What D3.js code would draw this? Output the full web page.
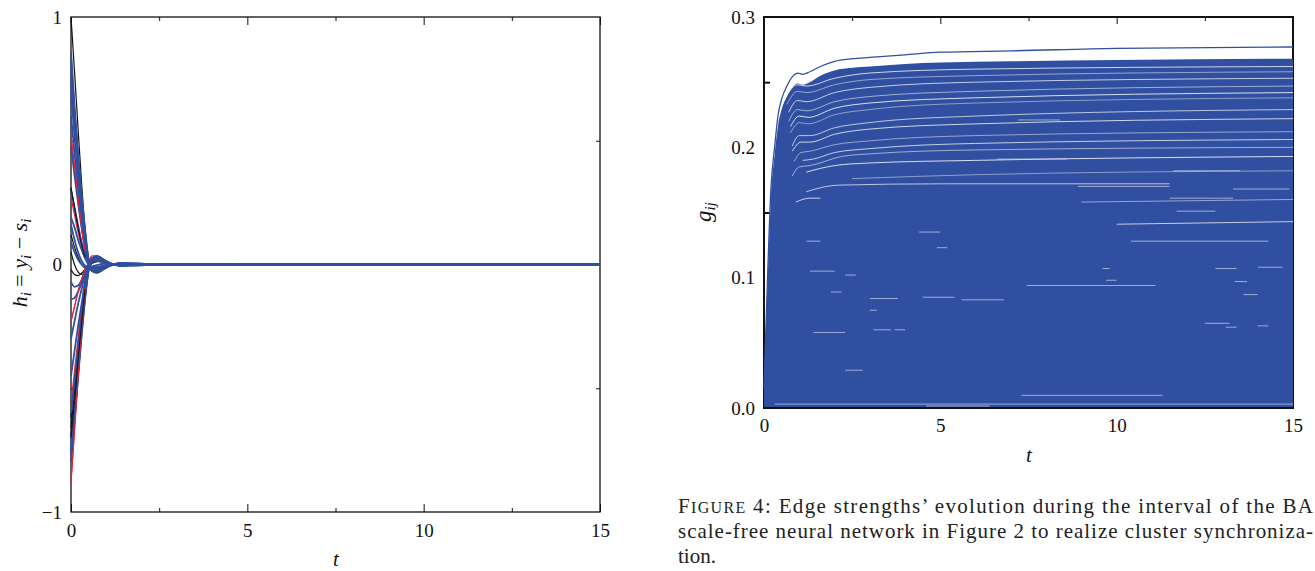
<!DOCTYPE html>
<html>
<head>
<meta charset="utf-8">
<script src="https://cdn.jsdelivr.net/npm/d3@7"></script>
<style>
  body { margin: 0; background: #fff; }
  svg { display: block; }
</style>
</head>
<body>
<script>
// ---------- left panel: h_i = y_i - s_i ----------
const tLeft = [0, 0.1, 0.2, 0.3, 0.4, 0.5, 0.6, 0.75, 0.9, 1.1, 1.4, 1.8, 2.5, 3.5, 5, 15];

const blackLeft = [
  [1.0, 0.78, 0.55, 0.33, 0.14, 0.01, -0.028, -0.034, -0.02, -0.005, 0.006, 0.004, 0.001, 0, 0, 0],
  [0.31, 0.23, 0.15, 0.08, 0.03, 0.0, -0.012, -0.015, -0.01, -0.003, 0.002, 0.002, 0, 0, 0, 0],
  [0.12, 0.07, 0.03, 0.0, -0.015, -0.02, -0.018, -0.012, -0.006, 0, 0.002, 0.001, 0, 0, 0, 0],
  [0.05, 0.0, -0.03, -0.04, -0.03, -0.012, 0.005, 0.012, 0.01, 0.004, 0, 0, 0, 0, 0, 0],
  [-0.62, -0.47, -0.32, -0.19, -0.07, 0.0, 0.025, 0.028, 0.018, 0.005, -0.004, -0.003, -0.001, 0, 0, 0],
  [-0.7, -0.55, -0.39, -0.24, -0.1, -0.01, 0.02, 0.03, 0.02, 0.006, -0.004, -0.003, -0.001, 0, 0, 0],
  [-0.66, -0.52, -0.37, -0.23, -0.09, -0.005, 0.022, 0.027, 0.017, 0.005, -0.003, -0.002, 0, 0, 0, 0],
  [-0.02, -0.04, -0.045, -0.035, -0.02, -0.005, 0.01, 0.015, 0.01, 0.003, 0, 0, 0, 0, 0, 0]
];

const redLeft = [
  [0.52, 0.4, 0.27, 0.15, 0.05, -0.005, -0.025, -0.025, -0.015, -0.004, 0.003, 0.002, 0.001, 0, 0, 0],
  [0.27, 0.2, 0.13, 0.07, 0.025, 0.0, -0.01, -0.012, -0.008, -0.002, 0.002, 0.001, 0, 0, 0, 0],
  [-0.23, -0.17, -0.11, -0.06, -0.02, 0.005, 0.015, 0.014, 0.008, 0.002, -0.002, -0.001, 0, 0, 0, 0],
  [-0.56, -0.43, -0.3, -0.17, -0.06, 0.005, 0.025, 0.025, 0.015, 0.004, -0.003, -0.002, 0, 0, 0, 0],
  [-0.88, -0.67, -0.46, -0.26, -0.09, 0.005, 0.035, 0.035, 0.02, 0.005, -0.005, -0.003, -0.001, 0, 0, 0]
];

const blueLeft = [
  [0.86, 0.64, 0.45, 0.28, 0.14, 0.02, -0.026, -0.033, -0.022, -0.006, 0.005, 0.004, 0.0013, 0.0004, 0.002, 0.002],
  [0.83, 0.62, 0.44, 0.28, 0.13, 0.015, -0.025, -0.031, -0.02, -0.005, 0.005, 0.003, 0.001, 0, 0, 0],
  [0.79, 0.6, 0.42, 0.26, 0.12, 0.01, -0.022, -0.03, -0.019, -0.005, 0.004, 0.003, 0.001, 0, 0, 0],
  [0.74, 0.56, 0.39, 0.24, 0.11, 0.01, -0.02, -0.027, -0.017, -0.004, 0.004, 0.003, 0.001, 0, 0, 0],
  [0.69, 0.52, 0.36, 0.22, 0.1, 0.008, -0.02, -0.025, -0.016, -0.004, 0.004, 0.002, 0.001, 0, 0, 0],
  [0.6, 0.45, 0.31, 0.19, 0.085, 0.005, -0.018, -0.022, -0.014, -0.004, 0.003, 0.002, 0.0005, 0, 0, 0],
  [0.48, 0.36, 0.25, 0.15, 0.065, 0.005, -0.015, -0.02, -0.012, -0.003, 0.003, 0.002, 0.0005, 0, 0, 0],
  [0.3, 0.23, 0.16, 0.09, 0.04, 0.002, -0.012, -0.015, -0.01, -0.003, 0.002, 0.001, 0, 0, 0, 0],
  [0.19, 0.15, 0.1, 0.06, 0.025, 0.0, -0.01, -0.012, -0.008, -0.002, 0.002, 0.001, 0, 0, 0, 0],
  [0.16, 0.1, 0.05, 0.015, -0.005, -0.012, -0.014, -0.01, -0.005, 0.0, 0.002, 0.001, 0, 0, 0, 0],
  [0.09, 0.05, 0.02, 0.0, -0.01, -0.012, -0.008, -0.002, 0.003, 0.003, 0.001, 0, 0, 0, 0, 0],
  [-0.07, -0.09, -0.085, -0.065, -0.038, -0.01, 0.012, 0.02, 0.014, 0.004, -0.002, -0.001, 0, 0, 0, 0],
  [-0.14, -0.135, -0.11, -0.075, -0.04, -0.008, 0.015, 0.022, 0.015, 0.004, -0.003, -0.002, 0, 0, 0, 0],
  [-0.3, -0.23, -0.16, -0.1, -0.04, -0.002, 0.015, 0.018, 0.011, 0.003, -0.002, -0.001, 0, 0, 0, 0],
  [-0.45, -0.35, -0.25, -0.16, -0.07, -0.005, 0.02, 0.025, 0.016, 0.004, -0.003, -0.002, -0.001, 0, 0, 0],
  [-0.6, -0.47, -0.34, -0.21, -0.09, -0.01, 0.02, 0.026, 0.017, 0.005, -0.004, -0.002, -0.001, 0, 0, 0],
  [-0.72, -0.57, -0.41, -0.26, -0.12, -0.015, 0.022, 0.03, 0.02, 0.006, -0.004, -0.003, -0.001, 0, 0, 0],
  [-0.75, -0.59, -0.43, -0.27, -0.13, -0.02, 0.025, 0.032, 0.021, 0.006, -0.005, -0.003, -0.001, 0, 0, 0],
  [-0.77, -0.61, -0.44, -0.28, -0.13, -0.02, 0.026, 0.033, 0.022, 0.006, -0.005, -0.003, -0.001, 0, 0, 0],
  [-0.8, -0.63, -0.46, -0.29, -0.14, -0.025, 0.025, 0.034, 0.022, 0.006, -0.005, -0.003, -0.001, 0, -0.002, -0.002]
];

const xTickLabels = [0, 5, 10, 15];
const xMinorTicks = [2.5, 7.5, 12.5];
const hTickLabels = [-1, 0, 1];
const hMinorTicks = [-0.5, 0.5];

// ---------- right panel: g_ij ----------
const tRight = [0, 0.1, 0.2, 0.3, 0.4, 0.5, 0.65, 0.8, 0.95, 1.1, 1.3, 1.6, 2, 2.5, 3, 4, 5, 7, 10, 15];
const topLine = [0.015, 0.1, 0.17, 0.2, 0.225, 0.237, 0.247, 0.254, 0.257, 0.256, 0.258, 0.262, 0.266, 0.268, 0.269, 0.271, 0.273, 0.274, 0.276, 0.277];
const bodyTop = [0.02, 0.095, 0.163, 0.194, 0.217, 0.229, 0.239, 0.246, 0.249, 0.248, 0.25, 0.255, 0.259, 0.261, 0.262, 0.264, 0.265, 0.266, 0.267, 0.268];

// white gaps between neighbouring edge curves, [t, g]
const gapCurves = [
  [[0.6, 0.238], [0.95, 0.248], [1.2, 0.247], [2, 0.253], [3, 0.257], [6, 0.26], [15, 0.262]],
  [[0.65, 0.233], [0.95, 0.243], [1.2, 0.242], [2, 0.248], [3, 0.252], [6, 0.255], [15, 0.258]],
  [[0.7, 0.227], [0.95, 0.236], [1.2, 0.235], [2, 0.242], [3, 0.246], [6, 0.25], [15, 0.253]],
  [[0.7, 0.22], [0.95, 0.229], [1.2, 0.228], [2, 0.235], [3, 0.239], [6, 0.243], [15, 0.247]],
  [[0.75, 0.216], [1.0, 0.224], [1.25, 0.223], [2, 0.23], [3, 0.234], [6, 0.238], [15, 0.242]],
  [[0.75, 0.211], [1.0, 0.219], [1.25, 0.218], [2, 0.225], [3, 0.229], [6, 0.234], [15, 0.238]],
  [[0.8, 0.201], [1.0, 0.209], [1.3, 0.209], [2, 0.215], [3, 0.219], [6, 0.224], [15, 0.229]],
  [[0.8, 0.197], [1.05, 0.204], [1.3, 0.204], [2, 0.21], [3, 0.214], [6, 0.218], [15, 0.222]],
  [[0.85, 0.189], [1.05, 0.196], [1.3, 0.197], [2, 0.202], [3, 0.205], [6, 0.209], [15, 0.212]],
  [[1.1, 0.19], [1.4, 0.191], [2, 0.196], [3, 0.199], [6, 0.203], [15, 0.206]],
  [[0.8, 0.178], [1.0, 0.185], [1.3, 0.186], [2.2, 0.193], [3, 0.195], [6, 0.198], [15, 0.2]],
  [[1.2, 0.181], [2, 0.186], [3, 0.188], [6, 0.19], [15, 0.193]],
  [[2.5, 0.176], [6, 0.179], [15, 0.182]],
  [[1.2, 0.166], [2.1, 0.171], [5, 0.172], [11.5, 0.172]],
  [[0.9, 0.158], [1.3, 0.161], [1.6, 0.161]],
  [[9, 0.158], [15, 0.16]],
  [[10, 0.141], [15, 0.143]]
];

// short light streaks inside the blue mass: [t start, t end, g]
const faintDashes = [
  [1.4, 2.3, 0.058], [3.1, 3.6, 0.06], [3.7, 4.0, 0.06], [3.0, 3.8, 0.084], [4.5, 5.4, 0.085],
  [5.6, 6.8, 0.083], [1.9, 2.2, 0.089], [3.0, 3.2, 0.075], [2.3, 2.8, 0.029], [4.4, 5.0, 0.135],
  [4.9, 5.2, 0.123], [7.45, 11.1, 0.094], [13.1, 13.4, 0.062], [14.0, 14.3, 0.063], [13.35, 13.7, 0.097],
  [13.6, 14.0, 0.087], [12.8, 13.4, 0.107], [14.0, 14.7, 0.108], [9.6, 9.8, 0.107], [9.7, 10.0, 0.098],
  [7.3, 11.3, 0.0097], [10.4, 14.3, 0.128], [11.5, 13.3, 0.161], [11.7, 12.8, 0.151], [13.3, 14.9, 0.168],
  [8.9, 11.5, 0.17], [11.6, 13.5, 0.182], [6.6, 8.6, 0.191], [7.2, 8.4, 0.221], [1.2, 1.6, 0.128],
  [4.6, 6.4, 0.0015], [0.3, 15, 0.003], [1.3, 2.0, 0.105], [2.3, 2.6, 0.102], [12.5, 13.2, 0.065]
];

const gTickLabels = [0, 0.1, 0.2, 0.3];
const gMinorTicks = [0.05, 0.15, 0.25];

const captionLines = [
  ["Figure 4:", " Edge strengths’ evolution during the interval of the BA"],
  ["", "scale-free neural network in Figure 2 to realize cluster synchroniza-"],
  ["", "tion."]
];

// ---------- drawing ----------
const serif = "Liberation Serif";
const blue = "#314fa0";

const svg = d3.select("body").append("svg")
  .attr("width", 1315)
  .attr("height", 571)
  .style("background-color", "#fff");

function styleAxis(g, size) {
  g.select(".domain").remove();
  g.attr("font-family", serif).attr("font-size", size);
  g.selectAll("text").attr("fill", "#111").attr("font-family", serif);
  g.selectAll("line").attr("stroke", "#111");
}

// left panel scales
const xL = d3.scaleLinear().domain([0, 15]).range([71, 600]);
const yL = d3.scaleLinear().domain([-1, 1]).range([512, 17]);

svg.append("g").attr("transform", "translate(0,512)")
  .call(d3.axisBottom(xL).tickValues(xTickLabels).tickSize(-8).tickPadding(12).tickFormat(d3.format("d")))
  .call(styleAxis, 19);
svg.append("g").attr("transform", "translate(0,512)")
  .call(d3.axisBottom(xL).tickValues(xMinorTicks).tickSize(-4).tickFormat(""))
  .call(styleAxis, 19);
svg.append("g").attr("transform", "translate(0,17)")
  .call(d3.axisTop(xL).tickValues(xTickLabels).tickSize(-8).tickFormat(""))
  .call(styleAxis, 19);
svg.append("g").attr("transform", "translate(0,17)")
  .call(d3.axisTop(xL).tickValues(xMinorTicks).tickSize(-4).tickFormat(""))
  .call(styleAxis, 19);
svg.append("g").attr("transform", "translate(71,0)")
  .call(d3.axisLeft(yL).tickValues(hTickLabels).tickSize(0).tickPadding(9).tickFormat(d3.format("d")))
  .call(styleAxis, 19);
svg.append("g").attr("transform", "translate(71,0)")
  .call(d3.axisLeft(yL).tickValues(hMinorTicks).tickSize(-4).tickFormat(""))
  .call(styleAxis, 19);
svg.append("g").attr("transform", "translate(600,0)")
  .call(d3.axisRight(yL).tickValues(hMinorTicks).tickSize(-4).tickFormat(""))
  .call(styleAxis, 19);

svg.append("rect")
  .attr("x", xL(0)).attr("y", yL(1))
  .attr("width", xL(15) - xL(0)).attr("height", yL(-1) - yL(1))
  .attr("fill", "none").attr("stroke", "#111").attr("stroke-width", 1.3);

const lineL = d3.line()
  .x((d, i) => xL(tLeft[i]))
  .y(d => yL(d))
  .curve(d3.curveMonotoneX);

const leftSets = [
  { data: blackLeft, color: "#111", w: 1.2 },
  { data: redLeft, color: "#e8202a", w: 1.2 },
  { data: blueLeft, color: blue, w: 1.8 }
];
leftSets.forEach(s => {
  svg.append("g").selectAll("path")
    .data(s.data)
    .join("path")
    .attr("d", lineL)
    .attr("fill", "none")
    .attr("stroke", s.color)
    .attr("stroke-width", s.w);
});
// some red and black strands show through the blue wedge (initial part only)
svg.append("g").selectAll("path")
  .data([redLeft[0], redLeft[2], redLeft[4], blackLeft[1], blackLeft[5]].map(a => a.slice(0, 5)))
  .join("path")
  .attr("d", lineL)
  .attr("fill", "none")
  .attr("stroke", (d, i) => i < 3 ? "#e8202a" : "#111")
  .attr("stroke-width", 1);

// axis titles, left
svg.append("text")
  .attr("transform", "translate(27,263) rotate(-90)")
  .attr("text-anchor", "middle")
  .attr("font-family", serif)
  .attr("font-size", 22)
  .attr("fill", "#111")
  .html("<tspan font-style='italic'>h</tspan><tspan font-style='italic' font-size='15' dy='4'>i</tspan>" +
        "<tspan dy='-4'> = </tspan><tspan font-style='italic'>y</tspan><tspan font-style='italic' font-size='15' dy='4'>i</tspan>" +
        "<tspan dy='-4'> − </tspan><tspan font-style='italic'>s</tspan><tspan font-style='italic' font-size='15' dy='4'>i</tspan>");

svg.append("text")
  .attr("x", 336).attr("y", 566)
  .attr("text-anchor", "middle")
  .attr("font-family", serif).attr("font-style", "italic").attr("font-size", 21)
  .attr("fill", "#111")
  .text("t");

// right panel scales
const xR = d3.scaleLinear().domain([0, 15]).range([764, 1293]);
const yR = d3.scaleLinear().domain([0, 0.3]).range([408, 17]);

svg.append("g").attr("transform", "translate(0,408)")
  .call(d3.axisBottom(xR).tickValues(xTickLabels).tickSize(-8).tickPadding(11).tickFormat(d3.format("d")))
  .call(styleAxis, 19);
svg.append("g").attr("transform", "translate(0,17)")
  .call(d3.axisTop(xR).tickValues(xTickLabels).tickSize(-7).tickFormat(""))
  .call(styleAxis, 19);
svg.append("g").attr("transform", "translate(0,17)")
  .call(d3.axisTop(xR).tickValues(xMinorTicks).tickSize(-4).tickFormat(""))
  .call(styleAxis, 19);
svg.append("g").attr("transform", "translate(764,0)")
  .call(d3.axisLeft(yR).tickValues(gTickLabels).tickSize(0).tickPadding(9).tickFormat(d3.format(".1f")))
  .call(styleAxis, 19);
svg.append("g").attr("transform", "translate(764,0)")
  .call(d3.axisLeft(yR).tickValues(gMinorTicks).tickSize(-6).tickFormat(""))
  .call(styleAxis, 19)
  .selectAll("line").attr("stroke-width", 2);

svg.append("rect")
  .attr("x", xR(0)).attr("y", yR(0.3))
  .attr("width", xR(15) - xR(0)).attr("height", yR(0) - yR(0.3))
  .attr("fill", "none").attr("stroke", "#111").attr("stroke-width", 2);

const areaR = d3.area()
  .x((d, i) => xR(tRight[i]))
  .y0(yR(0))
  .y1(d => yR(d))
  .curve(d3.curveMonotoneX);

svg.append("path")
  .datum(bodyTop)
  .attr("d", areaR)
  .attr("fill", blue);

const lineR = d3.line()
  .x((d, i) => xR(tRight[i]))
  .y(d => yR(d))
  .curve(d3.curveMonotoneX);

svg.append("path")
  .datum(topLine)
  .attr("d", lineR)
  .attr("fill", "none")
  .attr("stroke", blue)
  .attr("stroke-width", 1.3);

const gapLine = d3.line()
  .x(d => xR(d[0]))
  .y(d => yR(d[1]))
  .curve(d3.curveMonotoneX);

svg.append("g").selectAll("path")
  .data(gapCurves)
  .join("path")
  .attr("d", gapLine)
  .attr("fill", "none")
  .attr("stroke", "#fff")
  .attr("stroke-opacity", (d, i) => [0.85, 0.55, 0.8, 0.6, 0.9, 0.5, 0.75][i % 7])
  .attr("stroke-width", 0.9);

svg.append("g").selectAll("line")
  .data(faintDashes)
  .join("line")
  .attr("x1", d => xR(d[0]))
  .attr("x2", d => xR(d[1]))
  .attr("y1", d => yR(d[2]))
  .attr("y2", d => yR(d[2]))
  .attr("stroke", "#c9d1ea")
  .attr("stroke-opacity", 0.8)
  .attr("stroke-width", 0.9);

// bottom axis line stays visible over the blue
svg.append("line")
  .attr("x1", xR(0)).attr("x2", xR(15))
  .attr("y1", yR(0)).attr("y2", yR(0))
  .attr("stroke", "#111").attr("stroke-width", 2);

// axis titles, right
svg.append("text")
  .attr("transform", "translate(711,212) rotate(-90)")
  .attr("text-anchor", "middle")
  .attr("font-family", serif)
  .attr("font-style", "italic")
  .attr("font-size", 23)
  .attr("fill", "#111")
  .html("g<tspan font-size='15' dy='4'>ij</tspan>");

svg.append("text")
  .attr("x", 1029).attr("y", 462)
  .attr("text-anchor", "middle")
  .attr("font-family", serif).attr("font-style", "italic").attr("font-size", 21)
  .attr("fill", "#111")
  .text("t");

// caption
const capY = [513, 538, 563];
captionLines.forEach((ln, i) => {
  const t = svg.append("text")
    .attr("x", 678).attr("y", capY[i])
    .attr("font-family", serif).attr("font-size", 21)
    .attr("fill", "#222");
  if (ln[0]) {
    t.append("tspan").text("F");
    t.append("tspan").attr("font-size", 16).text("IGURE");
    t.append("tspan").text(" 4:");
  }
  t.append("tspan").text(ln[1]);
  if (i < 2) t.attr("textLength", 635).attr("lengthAdjust", "spacing");
});
</script>
</body>
</html>
